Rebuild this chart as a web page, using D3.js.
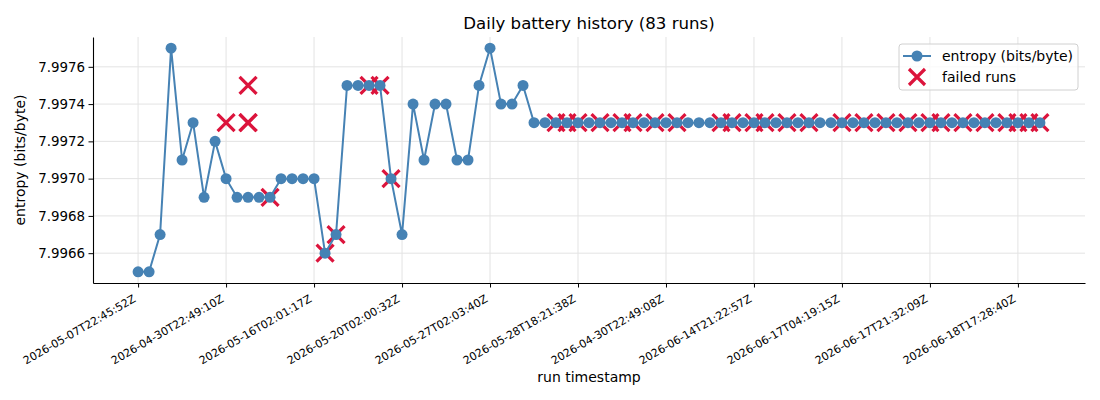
<!DOCTYPE html>
<html lang="en">
<head>
<meta charset="UTF-8">
<title>Daily battery history</title>
<script src="https://cdn.jsdelivr.net/npm/d3@7"></script>
<style>
  body { margin: 0; background: #fff; }
  svg text { font-family: "DejaVu Sans", sans-serif; fill: #000; }
</style>
</head>
<body>
<script>
    const width = 1100;
    const height = 400;

    const line_color = '#4682b4';
    const fail_color = '#dc143c';

    // entropy per run, index = run position
    const entropy = [
        7.9965, 7.9965, 7.9967, 7.9977, 7.9971, 7.9973, 7.9969, 7.9972, 7.9970, 7.9969,
        7.9969, 7.9969, 7.9969, 7.9970, 7.9970, 7.9970, 7.9970, 7.9966, 7.9967, 7.9975,
        7.9975, 7.9975, 7.9975, 7.9970, 7.9967, 7.9974, 7.9971, 7.9974, 7.9974, 7.9971,
        7.9971, 7.9975, 7.9977, 7.9974, 7.9974, 7.9975, 7.9973, 7.9973, 7.9973, 7.9973,
        7.9973, 7.9973, 7.9973, 7.9973, 7.9973, 7.9973, 7.9973, 7.9973, 7.9973, 7.9973,
        7.9973, 7.9973, 7.9973, 7.9973, 7.9973, 7.9973, 7.9973, 7.9973, 7.9973, 7.9973,
        7.9973, 7.9973, 7.9973, 7.9973, 7.9973, 7.9973, 7.9973, 7.9973, 7.9973, 7.9973,
        7.9973, 7.9973, 7.9973, 7.9973, 7.9973, 7.9973, 7.9973, 7.9973, 7.9973, 7.9973,
        7.9973, 7.9973, 7.9973
    ];

    // failed runs: run index and entropy
    const failed_idx = [8, 10, 10, 10, 12, 17, 18, 21, 22, 23,
        38, 39, 40, 42, 44, 45, 47, 49, 53, 54, 56, 57, 59, 61,
        64, 66, 68, 70, 72, 73, 75, 77, 79, 80, 81, 82];
    const failed_val = [7.9973, 7.9975, 7.9973, 7.9973, 7.9969, 7.9966, 7.9967, 7.9975, 7.9975, 7.9970,
        7.9973, 7.9973, 7.9973, 7.9973, 7.9973, 7.9973, 7.9973, 7.9973, 7.9973, 7.9973, 7.9973, 7.9973, 7.9973, 7.9973,
        7.9973, 7.9973, 7.9973, 7.9973, 7.9973, 7.9973, 7.9973, 7.9973, 7.9973, 7.9973, 7.9973, 7.9973];

    // x tick labels, one every 8 runs
    const tick_pos = [0, 8, 16, 24, 32, 40, 48, 56, 64, 72, 80];
    const tick_labels = [
        '2026-05-07T22:45:52Z', '2026-04-30T22:49:10Z', '2026-05-16T02:01:17Z',
        '2026-05-20T02:00:32Z', '2026-05-27T02:03:40Z', '2026-05-28T18:21:38Z',
        '2026-04-30T22:49:08Z', '2026-06-14T21:22:57Z', '2026-06-17T04:19:15Z',
        '2026-06-17T21:32:09Z', '2026-06-18T17:28:40Z'
    ];
    const y_ticks = [7.9966, 7.9968, 7.9970, 7.9972, 7.9974, 7.9976];

    const margin = {left: 93, right: 15, top: 37, bottom: 117};
    const pw = width - margin.left - margin.right;
    const ph = height - margin.top - margin.bottom;

    const n = entropy.length;
    const xScale = d3.scaleLinear()
        .domain([-(n - 1) * 0.05, (n - 1) * 1.05])
        .range([0, pw]);
    const yScale = d3.scaleLinear()
        .domain([7.99644, 7.99776])
        .range([ph, 0]);

    const svg = d3.select('body').append('svg')
        .attr('width', width)
        .attr('height', height);

    const g = svg.append('g')
        .attr('transform', 'translate(' + margin.left + ',' + margin.top + ')');

    // grid
    g.append('g').selectAll('line.vg')
        .data(tick_pos).enter().append('line')
        .attr('x1', d => xScale(d)).attr('x2', d => xScale(d))
        .attr('y1', 0).attr('y2', ph)
        .attr('stroke', '#e3e3e3').attr('stroke-width', 1);
    g.append('g').selectAll('line.hg')
        .data(y_ticks).enter().append('line')
        .attr('x1', 0).attr('x2', pw)
        .attr('y1', d => yScale(d)).attr('y2', d => yScale(d))
        .attr('stroke', '#e3e3e3').attr('stroke-width', 1);

    // axes
    const xAxis = g.append('g')
        .attr('transform', 'translate(0,' + ph + ')')
        .call(d3.axisBottom(xScale).tickValues(tick_pos)
            .tickFormat((d, i) => tick_labels[i]).tickSize(4.5).tickSizeOuter(0));
    xAxis.selectAll('text')
        .style('font-size', '11px')
        .attr('text-anchor', 'end')
        .attr('x', 0).attr('y', 0).attr('dy', 0)
        .attr('transform', 'translate(-2,18) rotate(-30)');

    const yAxis = g.append('g')
        .call(d3.axisLeft(yScale).tickValues(y_ticks)
            .tickFormat(d3.format('.4f')).tickSize(4.5).tickSizeOuter(0));
    yAxis.selectAll('text').style('font-size', '13.4px').attr('x', -8);

    [xAxis, yAxis].forEach(a => {
        a.select('.domain').attr('stroke', '#000').attr('stroke-width', 1.1);
        a.selectAll('.tick line').attr('stroke', '#000').attr('stroke-width', 1);
    });

    // failed run crosses (under the series)
    const s = 8.5;
    const fails = failed_idx.map((d, i) => ({i: d, v: failed_val[i]}));
    const fg = g.append('g').selectAll('g')
        .data(fails).enter().append('g')
        .attr('transform', d => 'translate(' + xScale(d.i) + ',' + yScale(d.v) + ')');
    fg.append('path')
        .attr('d', 'M' + (-s) + ',' + (-s) + 'L' + s + ',' + s + 'M' + (-s) + ',' + s + 'L' + s + ',' + (-s))
        .attr('stroke', fail_color)
        .attr('stroke-width', 3.2)
        .attr('fill', 'none');

    // series line + circles
    const line = d3.line()
        .x((d, i) => xScale(i))
        .y(d => yScale(d));
    g.append('path')
        .datum(entropy)
        .attr('d', line)
        .attr('fill', 'none')
        .attr('stroke', line_color)
        .attr('stroke-width', 2);
    g.append('g').selectAll('circle')
        .data(entropy).enter().append('circle')
        .attr('cx', (d, i) => xScale(i))
        .attr('cy', d => yScale(d))
        .attr('r', 5.5)
        .attr('fill', line_color);

    // labels
    svg.append('text')
        .attr('x', margin.left + pw / 2).attr('y', 29)
        .attr('text-anchor', 'middle')
        .style('font-size', '16.6px')
        .text('Daily battery history (83 runs)');
    svg.append('text')
        .attr('x', margin.left + pw / 2).attr('y', 382)
        .attr('text-anchor', 'middle')
        .style('font-size', '14px')
        .text('run timestamp');
    svg.append('text')
        .attr('transform', 'translate(25,' + (margin.top + ph / 2) + ') rotate(-90)')
        .attr('text-anchor', 'middle')
        .style('font-size', '14px')
        .text('entropy (bits/byte)');

    // legend
    const lg = svg.append('g').attr('transform', 'translate(899,44)');
    lg.append('rect')
        .attr('width', 179).attr('height', 46).attr('rx', 3)
        .attr('fill', '#fff').attr('fill-opacity', 0.8)
        .attr('stroke', '#d0d0d0');
    lg.append('line')
        .attr('x1', 4).attr('x2', 32).attr('y1', 12).attr('y2', 12)
        .attr('stroke', line_color).attr('stroke-width', 2);
    lg.append('circle').attr('cx', 18).attr('cy', 12).attr('r', 5.5).attr('fill', line_color);
    lg.append('path')
        .attr('d', 'M10,25L26,41M10,41L26,25')
        .attr('stroke', fail_color).attr('stroke-width', 3.2).attr('fill', 'none');
    lg.append('text').attr('x', 43).attr('y', 17).style('font-size', '14px').text('entropy (bits/byte)');
    lg.append('text').attr('x', 43).attr('y', 38).style('font-size', '14px').text('failed runs');
</script>
</body>
</html>
